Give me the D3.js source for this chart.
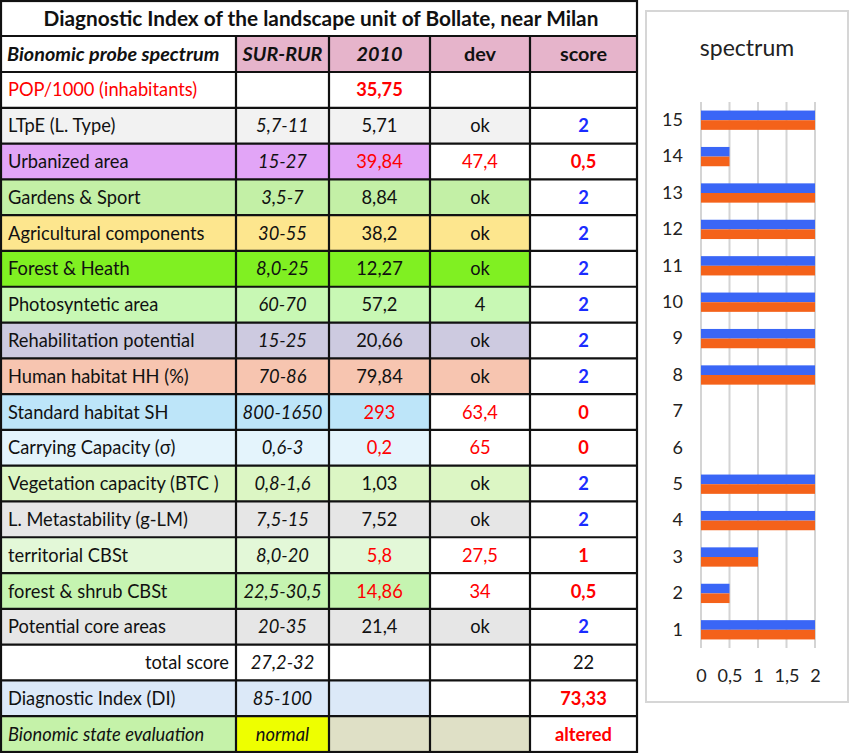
<!DOCTYPE html>
<html>
<head>
<meta charset="utf-8">
<script src="https://cdn.jsdelivr.net/npm/d3@7"></script>
<style>
  html, body { margin: 0; padding: 0; background: #ffffff; }
  svg { display: block; }
  text { font-family: Lato, "Open Sans", sans-serif; }
</style>
</head>
<body>
<svg id="chart" width="850" height="753"></svg>
<script>
// ---------------- DATA ----------------
const tableTitle = "Diagnostic Index of the landscape unit of Bollate, near Milan";
const headers = ["Bionomic probe spectrum", "SUR-RUR", "2010", "dev", "score"];
const rowLabels = [
  "POP/1000 (inhabitants)", "LTpE (L. Type)", "Urbanized area", "Gardens & Sport",
  "Agricultural components", "Forest & Heath", "Photosyntetic area", "Rehabilitation potential",
  "Human habitat HH (%)", "Standard habitat SH", "Carrying Capacity (σ)", "Vegetation capacity (BTC )",
  "L. Metastability (g-LM)", "territorial CBSt", "forest & shrub CBSt", "Potential core areas",
  "total score", "Diagnostic Index (DI)", "Bionomic state evaluation"
];
const surRur = ["", "5,7-11", "15-27", "3,5-7", "30-55", "8,0-25", "60-70", "15-25", "70-86",
  "800-1650", "0,6-3", "0,8-1,6", "7,5-15", "8,0-20", "22,5-30,5", "20-35", "27,2-32", "85-100", "normal"];
const values2010 = ["35,75", "5,71", "39,84", "8,84", "38,2", "12,27", "57,2", "20,66", "79,84",
  "293", "0,2", "1,03", "7,52", "5,8", "14,86", "21,4", "", "", ""];
const devs = ["", "ok", "47,4", "ok", "ok", "ok", "4", "ok", "ok",
  "63,4", "65", "ok", "ok", "27,5", "34", "ok", "", "", ""];
const scores = ["", "2", "0,5", "2", "2", "2", "2", "2", "2",
  "0", "0", "2", "2", "1", "0,5", "2", "22", "73,33", "altered"];

const spectrumTitle = "spectrum";
const spectrumCategories = ["1","2","3","4","5","6","7","8","9","10","11","12","13","14","15"];
const seriesBlue   = [2, 0.5, 1, 2, 2, 0, 0, 2, 2, 2, 2, 2, 2, 0.5, 2];
const seriesOrange = [2, 0.5, 1, 2, 2, 0, 0, 2, 2, 2, 2, 2, 2, 0.5, 2];
const xTickValues = [0, 0.5, 1, 1.5, 2];
const xTickLabels = ["0", "0,5", "1", "1,5", "2"];

// ---------------- STYLE ----------------
const RED = "#ff0000", BLUE = "#1a2cff", BLACK = "#111111";
const W = "#ffffff";
const rowFills = [
  [W, W, W, W, W],
  ["#f2f2f2", "#f2f2f2", "#f2f2f2", "#f2f2f2", W],
  ["#e2a5f7", "#e2a5f7", "#e2a5f7", W, W],
  ["#c3f0a6", "#c3f0a6", "#c3f0a6", "#c3f0a6", W],
  ["#fde68e", "#fde68e", "#fde68e", "#fde68e", W],
  ["#80f022", "#80f022", "#80f022", "#80f022", W],
  ["#c8f8b4", "#c8f8b4", "#c8f8b4", "#c8f8b4", W],
  ["#cdcae0", "#cdcae0", "#cdcae0", "#cdcae0", W],
  ["#f7c5b0", "#f7c5b0", "#f7c5b0", "#f7c5b0", W],
  ["#bde5f9", "#bde5f9", "#bde5f9", W, W],
  ["#e4f4fc", "#e4f4fc", "#e4f4fc", W, W],
  ["#dcf6c4", "#dcf6c4", "#dcf6c4", "#dcf6c4", W],
  ["#e6e6e6", "#e6e6e6", "#e6e6e6", "#e6e6e6", W],
  ["#e3f8d8", "#e3f8d8", "#e3f8d8", W, W],
  ["#c5f4b0", "#c5f4b0", "#c5f4b0", W, W],
  ["#e6e6e6", "#e6e6e6", "#e6e6e6", "#e6e6e6", W],
  [W, W, W, W, W],
  ["#dce9f8", "#dce9f8", "#dce9f8", W, W],
  ["#c5f2a9", "#eeff00", "#dfe0c6", "#dfe0c6", W]
];
const headerFill = "#e6b4cb";

// ---------------- LAYOUT ----------------
const svg = d3.select("#chart");
const colEdges = [1, 236, 329, 430, 530, 637];
const tableTop = 1, titleH = 35, headerH = 36, tableBottom = 752;
const rowsTop = tableTop + titleH + headerH;

const yRow = d3.scaleBand()
  .domain(d3.range(rowLabels.length))
  .range([rowsTop, tableBottom]);

const FS = 18.3;
const table = svg.append("g");

rowLabels.forEach((lab, r) => {
  for (let c = 0; c < 5; c++) {
    table.append("rect")
      .attr("x", colEdges[c]).attr("y", yRow(r))
      .attr("width", colEdges[c + 1] - colEdges[c]).attr("height", yRow.bandwidth())
      .attr("fill", rowFills[r][c]);
  }
});
for (let c = 0; c < 5; c++) {
  table.append("rect")
    .attr("x", colEdges[c]).attr("y", tableTop + titleH)
    .attr("width", colEdges[c + 1] - colEdges[c]).attr("height", headerH)
    .attr("fill", c === 0 ? W : headerFill);
}

table.append("text")
  .attr("x", (colEdges[0] + colEdges[5]) / 2 + 2).attr("y", tableTop + titleH / 2)
  .attr("dy", "0.36em").attr("text-anchor", "middle")
  .attr("font-size", 20.8).attr("font-weight", 700).attr("fill", BLACK)
  .text(tableTitle);

headers.forEach((h, c) => {
  const t = table.append("text")
    .attr("y", tableTop + titleH + headerH / 2).attr("dy", "0.36em")
    .attr("font-size", 19.8).attr("font-weight", 700).attr("fill", BLACK)
    .attr("font-style", c <= 2 ? "italic" : "normal")
    .text(h);
  if (c === 0) t.attr("x", colEdges[0] + 6).attr("text-anchor", "start");
  else t.attr("x", (colEdges[c] + colEdges[c + 1]) / 2).attr("text-anchor", "middle");
});

const redScore = s => s !== "" && s !== "2" && s !== "22";
rowLabels.forEach((lab, r) => {
  const cy = yRow(r) + yRow.bandwidth() / 2;
  const isTotal = lab === "total score";
  const isLast = r === rowLabels.length - 1;
  table.append("text")
    .attr("x", isTotal ? colEdges[1] - 7 : colEdges[0] + 7)
    .attr("text-anchor", isTotal ? "end" : "start")
    .attr("y", cy).attr("dy", "0.36em").attr("font-size", FS)
    .attr("font-style", isLast ? "italic" : "normal")
    .attr("fill", r === 0 ? RED : BLACK)
    .text(lab);
  table.append("text")
    .attr("x", (colEdges[1] + colEdges[2]) / 2).attr("text-anchor", "middle")
    .attr("y", cy).attr("dy", "0.36em").attr("font-size", FS)
    .attr("font-style", "italic").attr("fill", BLACK)
    .text(surRur[r]);
  const devOut = devs[r] !== "" && devs[r] !== "ok" && devs[r] !== "4";
  table.append("text")
    .attr("x", (colEdges[2] + colEdges[3]) / 2).attr("text-anchor", "middle")
    .attr("y", cy).attr("dy", "0.36em").attr("font-size", FS)
    .attr("font-weight", r === 0 ? 700 : 400)
    .attr("fill", (r === 0 || devOut) ? RED : BLACK)
    .text(values2010[r]);
  table.append("text")
    .attr("x", (colEdges[3] + colEdges[4]) / 2).attr("text-anchor", "middle")
    .attr("y", cy).attr("dy", "0.36em").attr("font-size", FS)
    .attr("fill", devOut ? RED : BLACK)
    .text(devs[r]);
  const s = scores[r];
  table.append("text")
    .attr("x", (colEdges[4] + colEdges[5]) / 2).attr("text-anchor", "middle")
    .attr("y", cy).attr("dy", "0.36em").attr("font-size", FS)
    .attr("font-weight", s === "22" ? 400 : 700)
    .attr("fill", s === "22" ? BLACK : (redScore(s) ? RED : BLUE))
    .text(s);
});

const lines = table.append("g").attr("stroke", "#111").attr("stroke-width", 2.2).attr("fill", "none");
lines.append("rect").attr("x", colEdges[0]).attr("y", tableTop)
  .attr("width", colEdges[5] - colEdges[0]).attr("height", tableBottom - tableTop);
const hYs = [tableTop + titleH, rowsTop].concat(d3.range(1, rowLabels.length).map(i => yRow(i)));
hYs.forEach(y => lines.append("line").attr("x1", colEdges[0]).attr("x2", colEdges[5]).attr("y1", y).attr("y2", y));
colEdges.slice(1, 5).forEach(x => lines.append("line").attr("x1", x).attr("x2", x).attr("y1", tableTop + titleH).attr("y2", tableBottom));

// ---------------- SPECTRUM CHART ----------------
const panel = svg.append("g");
panel.append("rect").attr("x", 646).attr("y", 11).attr("width", 202).attr("height", 691)
  .attr("fill", "#ffffff").attr("stroke", "#d6d6d6").attr("stroke-width", 2);

panel.append("text").attr("x", 747).attr("y", 48).attr("dy", "0.36em")
  .attr("text-anchor", "middle").attr("font-size", 23).attr("fill", "#222")
  .text(spectrumTitle);

const x = d3.scaleLinear().domain([0, 2]).range([701, 815]);
const y = d3.scaleBand().domain(spectrumCategories.slice().reverse())
  .range([102, 648]).paddingInner(0.47).paddingOuter(0.235);
const ySub = d3.scaleBand().domain(["blue", "orange"]).range([0, y.bandwidth()]);

panel.append("g").selectAll("line").data(xTickValues).join("line")
  .attr("x1", d => x(d)).attr("x2", d => x(d)).attr("y1", 102).attr("y2", 648)
  .attr("stroke", "#d4d4d4").attr("stroke-width", 2);

const series = [
  { key: "blue", values: seriesBlue, color: "#3a66f6" },
  { key: "orange", values: seriesOrange, color: "#f4621a" }
];
series.forEach(s => {
  panel.append("g").selectAll("rect").data(spectrumCategories).join("rect")
    .attr("x", x(0))
    .attr("y", (c) => y(c) + ySub(s.key))
    .attr("width", (c, i) => x(s.values[i]) - x(0))
    .attr("height", ySub.bandwidth())
    .attr("fill", s.color);
});

const yAxis = d3.axisLeft(y).tickSize(0).tickPadding(0);
const yg = panel.append("g").attr("transform", "translate(683,0)").call(yAxis);
yg.select(".domain").remove();
yg.selectAll("text").attr("font-size", 18).attr("fill", "#222").attr("font-family", "Lato, sans-serif");

const xAxis = d3.axisBottom(x).tickValues(xTickValues).tickFormat((d, i) => xTickLabels[i]).tickSize(0).tickPadding(0);
const xg = panel.append("g").attr("transform", "translate(0,669)").call(xAxis);
xg.select(".domain").remove();
xg.selectAll("text").attr("font-size", 18).attr("fill", "#222").attr("font-family", "Lato, sans-serif");
</script>
</body>
</html>
